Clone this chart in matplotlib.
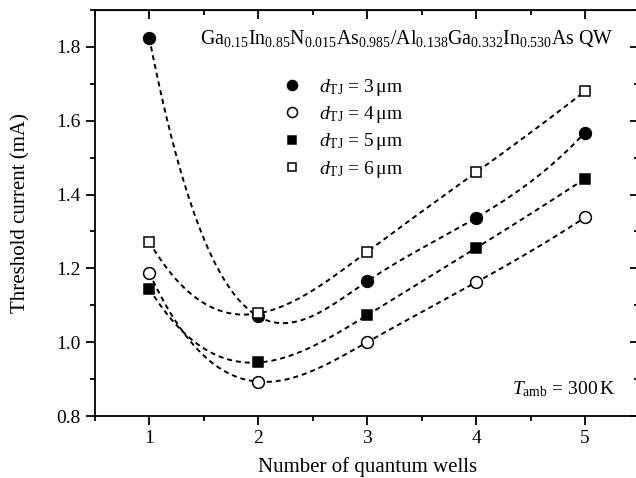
import matplotlib
matplotlib.use('Agg')
import matplotlib.pyplot as plt
from matplotlib.ticker import MultipleLocator
import numpy as np

plt.rcParams['font.family'] = 'Liberation Serif'
plt.rcParams['mathtext.fontset'] = 'custom'
plt.rcParams['mathtext.rm'] = 'Liberation Serif'
plt.rcParams['mathtext.it'] = 'Liberation Serif:italic'
plt.rcParams['mathtext.bf'] = 'Liberation Serif:bold'

# данные
wells = [1, 2, 3, 4, 5]
i_3um = [1.825, 1.070, 1.165, 1.337, 1.568]
i_4um = [1.188, 0.893, 1.000, 1.162, 1.338]
i_5um = [1.145, 0.945, 1.073, 1.255, 1.443]
i_6um = [1.272, 1.078, 1.245, 1.460, 1.680]
labels = ['3', '4', '5', '6']


def spline(x, y, xs):
    # кубический сплайн с условием not-a-knot
    x = np.asarray(x, float)
    y = np.asarray(y, float)
    n = len(x)
    h = np.diff(x)
    A = np.zeros((n, n))
    b = np.zeros(n)
    A[0, 0:3] = [h[1], -(h[0] + h[1]), h[0]]
    A[-1, -3:] = [h[-1], -(h[-2] + h[-1]), h[-2]]
    for i in range(1, n - 1):
        A[i, i - 1] = h[i - 1]
        A[i, i] = 2 * (h[i - 1] + h[i])
        A[i, i + 1] = h[i]
        b[i] = 6 * ((y[i + 1] - y[i]) / h[i] - (y[i] - y[i - 1]) / h[i - 1])
    m = np.linalg.solve(A, b)
    out = np.empty_like(xs)
    for k, t in enumerate(xs):
        i = min(max(np.searchsorted(x, t) - 1, 0), n - 2)
        a = x[i + 1] - t
        c = t - x[i]
        out[k] = (m[i] * a**3 / (6 * h[i]) + m[i + 1] * c**3 / (6 * h[i])
                  + (y[i] / h[i] - m[i] * h[i] / 6) * a
                  + (y[i + 1] / h[i] - m[i + 1] * h[i] / 6) * c)
    return out


fig = plt.figure(figsize=(6.36, 4.78), dpi=100)
ax = fig.add_axes([0.149, 0.1297, 0.8565, 0.8494])

xs = np.linspace(1, 5, 300)
series = [i_3um, i_4um, i_5um, i_6um]
styles = [('o', 'black'), ('o', 'white'), ('s', 'black'), ('s', 'white')]
sizes = [8.5, 8.5, 7.5, 7.5]

for vals in series:
    ax.plot(xs, spline(wells, vals, xs), color='black', lw=1.4,
            linestyle=(0, (2.6, 2.0)), zorder=2)

for vals, (mk, fc), ms, lab in zip(series, styles, sizes, labels):
    ax.plot(wells, vals, linestyle='none', marker=mk, markersize=ms,
            markerfacecolor=fc, markeredgecolor='black', markeredgewidth=1.1,
            label=r'$d_{\mathrm{TJ}}$ = ' + lab + r'$\,$μm', zorder=3)

ax.set_xlim(0.5, 5.5)
ax.set_ylim(0.8, 1.9)
ax.xaxis.set_major_locator(MultipleLocator(1))
ax.xaxis.set_minor_locator(MultipleLocator(0.5))
ax.yaxis.set_major_locator(MultipleLocator(0.2))
ax.yaxis.set_minor_locator(MultipleLocator(0.1))
ax.yaxis.set_major_formatter(plt.FormatStrFormatter('%.1f'))

for sp in ax.spines.values():
    sp.set_linewidth(1.3)
ax.tick_params(which='both', direction='out', width=1.3, labelsize=14,
               top=False, right=False)
ax.tick_params(which='major', length=6.5)
ax.tick_params(which='minor', length=3.5)
# засечки сверху и справа — внутрь
ax2 = ax.secondary_xaxis('top')
ax2.xaxis.set_major_locator(MultipleLocator(1))
ax2.xaxis.set_minor_locator(MultipleLocator(0.5))
ax2.tick_params(which='both', direction='in', width=1.3, labeltop=False)
ax2.tick_params(which='major', length=6.5)
ax2.tick_params(which='minor', length=3.5)
ay2 = ax.secondary_yaxis('right')
ay2.yaxis.set_major_locator(MultipleLocator(0.2))
ay2.yaxis.set_minor_locator(MultipleLocator(0.1))
ay2.tick_params(which='both', direction='in', width=1.3, labelright=False)
ay2.tick_params(which='major', length=6.5)
ay2.tick_params(which='minor', length=3.5)

ax.set_xlabel('Number of quantum wells', fontsize=15, labelpad=7)
ax.set_ylabel('Threshold current (mA)', fontsize=15, labelpad=19)

ax.text(0.573, 0.931,
        r'Ga$_{0.15}$In$_{0.85}$N$_{0.015}$As$_{0.985}$/Al$_{0.138}$'
        r'Ga$_{0.332}$In$_{0.530}$As QW',
        transform=ax.transAxes, ha='center', va='center', fontsize=14.3)
ax.text(0.955, 0.066, r'$T_{\mathrm{amb}}$ = 300$\,$K',
        transform=ax.transAxes, ha='right', va='center', fontsize=14)

ax.legend(loc='upper left', bbox_to_anchor=(0.33, 0.855), frameon=False,
          fontsize=14, handlelength=1.0, handletextpad=0.9,
          labelspacing=0.33, markerscale=0.85, borderaxespad=0)

plt.savefig('out.png', dpi=100)
